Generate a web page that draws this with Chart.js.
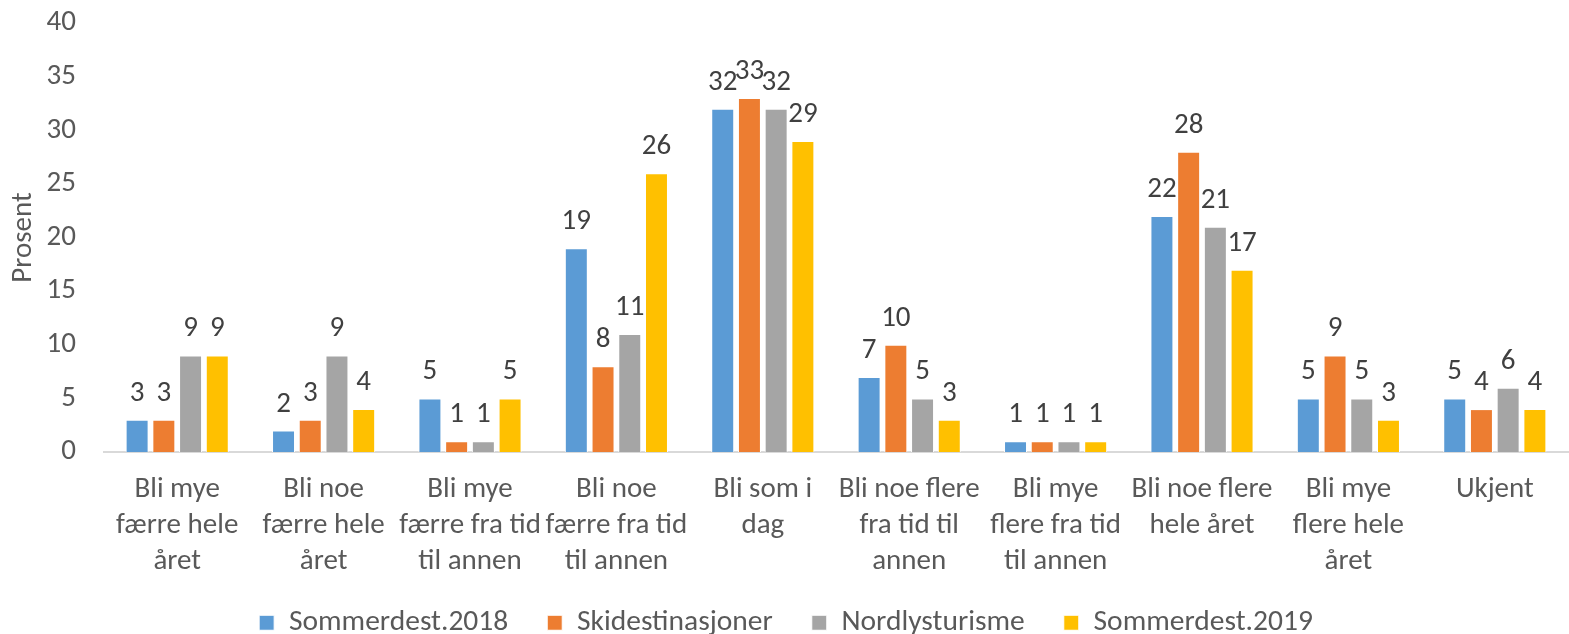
<!DOCTYPE html>
<html>
<head>
<meta charset="utf-8">
<script src="https://cdn.jsdelivr.net/npm/chart.js@4"></script>
<style>
  html, body { margin: 0; padding: 0; background: #fff; }
  #wrap { width: 1569px; height: 634px; position: relative; }
</style>
</head>
<body>
<div id="wrap"><canvas id="chart"></canvas></div>
<script>
// categories (split into lines like the original)
const categories = [
  ["Bli mye", "færre hele", "året"],
  ["Bli noe", "færre hele", "året"],
  ["Bli mye", "færre fra tid", "til annen"],
  ["Bli noe", "færre fra tid", "til annen"],
  ["Bli som i", "dag"],
  ["Bli noe flere", "fra tid til", "annen"],
  ["Bli mye", "flere fra tid", "til annen"],
  ["Bli noe flere", "hele året"],
  ["Bli mye", "flere hele", "året"],
  ["Ukjent"]
];

const seriesNames = ["Sommerdest.2018", "Skidestinasjoner", "Nordlysturisme", "Sommerdest.2019"];
const sommer2018 = [3, 2, 5, 19, 32, 7, 1, 22, 5, 5];
const skidest = [3, 3, 1, 8, 33, 10, 1, 28, 9, 4];
const nordlys = [9, 9, 1, 11, 32, 5, 1, 21, 5, 6];
const sommer2019 = [9, 4, 5, 26, 29, 3, 1, 17, 3, 4];
const yTicks = [0, 5, 10, 15, 20, 25, 30, 35, 40];

const colors = ["#5B9BD5", "#ED7D31", "#A5A5A5", "#FFC000"];
const FONT = "Carlito, 'Liberation Sans', Arial, sans-serif";

// draw value labels above each bar
const valueLabels = {
  id: "valueLabels",
  afterDatasetsDraw(chart) {
    const ctx = chart.ctx;
    ctx.save();
    ctx.font = "29px " + FONT;
    ctx.fillStyle = "#404040";
    ctx.textAlign = "center";
    ctx.textBaseline = "alphabetic";
    chart.data.datasets.forEach((ds, i) => {
      chart.getDatasetMeta(i).data.forEach((bar, j) => {
        ctx.fillText(ds.data[j], bar.x, bar.y - 19);
      });
    });
    ctx.restore();
  }
};

// keep the legend strip short; its padding only spaces the items
const legendHeight = {
  id: "legendHeight",
  beforeUpdate(chart) {
    const lg = chart.legend;
    if (!lg || lg._patched) return;
    const fit = lg.fit.bind(lg);
    lg.fit = function () { fit(); this.height = 55; };
    const draw = lg.draw.bind(lg);
    lg.draw = function () {
      const t = this.top;
      this.top = t - 10;
      draw();
      this.top = t;
    };
    lg._patched = true;
  }
};

const seriesData = [sommer2018, skidest, nordlys, sommer2019];

new Chart(document.getElementById("chart"), {
  type: "bar",
  data: {
    labels: categories,
    datasets: seriesNames.map((name, i) => ({
      label: name,
      data: seriesData[i],
      backgroundColor: colors[i],
      borderColor: "#ffffff",
      borderWidth: 1,
      categoryPercentage: 0.73,
      barPercentage: 0.86
    }))
  },
  options: {
    responsive: true,
    maintainAspectRatio: false,
    animation: false,
    layout: { padding: { top: 23, right: 1, left: 4, bottom: 0 } },
    plugins: {
      legend: {
        position: "bottom",
        labels: {
          font: { family: FONT, size: 29.5 },
          color: "#595959",
          boxWidth: 15,
          boxHeight: 15,
          padding: 39
        }
      },
      tooltip: { enabled: false }
    },
    scales: {
      x: {
        grid: { display: false, drawTicks: false },
        border: { color: "#D9D9D9", width: 2 },
        afterFit: (axis) => { axis.height = 127; },
        ticks: {
          font: { family: FONT, size: 29, lineHeight: 1.24 },
          color: "#595959",
          padding: 20,
          maxRotation: 0,
          autoSkip: false
        }
      },
      y: {
        min: 0,
        max: 40,
        afterBuildTicks: (axis) => { axis.ticks = yTicks.map(v => ({ value: v })); },
        afterFit: (axis) => {
          axis.width = 100;
          axis.paddingTop = 0;
          axis.paddingBottom = 0;
        },
        grid: { display: false, drawTicks: false },
        border: { display: false },
        ticks: {
          font: { family: FONT, size: 29 },
          color: "#595959",
          padding: 28
        },
        title: {
          display: true,
          text: "Prosent",
          font: { family: FONT, size: 29 },
          color: "#595959",
          padding: { top: 2, bottom: 0 }
        }
      }
    }
  },
  plugins: [valueLabels, legendHeight]
});
</script>
</body>
</html>
